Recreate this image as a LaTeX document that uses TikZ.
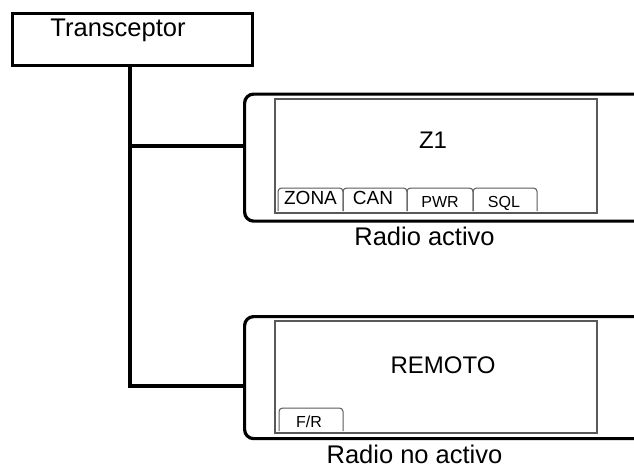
\documentclass[tikz,border=0pt]{standalone}
\usepackage{fontspec}
\setmainfont{Liberation Sans}
\begin{document}
\begin{tikzpicture}[x=1pt,y=-1pt,
  thick line/.style={line width=3.2pt, black},
  radiobox/.style={draw, line width=3.2pt, rounded corners=9pt, minimum width=420pt, anchor=north west, inner sep=0pt},
  screen/.style={draw=black!65, line width=1.3pt},
  tabline/.style={draw=black!65, line width=1pt, rounded corners=3.5pt},
  big/.style={font=\fontsize{25.5}{30}\selectfont, inner sep=0pt, anchor=base},
  mid/.style={font=\fontsize{24}{28}\selectfont, inner sep=0pt, anchor=base},
  tabA/.style={font=\fontsize{19}{22}\selectfont, inner sep=0pt, anchor=base},
  tabB/.style={font=\fontsize{16}{19}\selectfont, inner sep=0pt, anchor=base}]
\useasboundingbox (0,0) rectangle (634,469);
\clip (0,0) rectangle (634,469);

% Transceptor box
\node[draw, line width=3pt, minimum width=240pt, minimum height=52pt, anchor=north west, inner sep=0pt] (tx) at (11,12) {};
\node[big] (txl) at (118,36) {Transceptor};

% Radio 1 (active)
\node[radiobox, minimum height=127pt] (r1) at (243,92.5) {};
\draw[screen] (275,99) rectangle (597,213);
\node[mid] (z1) at (433,148) {Z1};
\draw[tabline] (278,211) -- (278,188) -- (343,188) -- (343,211);
\draw[tabline] (343,211) -- (343,188) -- (407,188) -- (407,211);
\draw[tabline] (407,211) -- (407,188) -- (473,188) -- (473,211);
\draw[tabline] (473,211) -- (473,188) -- (537,188) -- (537,211);
\node[tabA] (tzona) at (310.5,204) {ZONA};
\node[tabA] (tcan) at (373,204) {CAN};
\node[tabB] (tpwr) at (440,207) {PWR};
\node[tabB] (tsql) at (504,207) {SQL};
\node[big] (l1) at (424.5,245) {Radio activo};

% Radio 2 (not active)
\node[radiobox, minimum height=122pt] (r2) at (243,315) {};
\draw[screen] (275,321) rectangle (597,433);
\node[mid] (rem) at (443,373) {REMOTO};
\draw[tabline] (279,431) -- (279,408) -- (343,408) -- (343,431);
\node[tabB] (tfr) at (309,427) {F/R};
\node[big] (l2) at (414.5,463.5) {Radio no activo};

% Connectors
\coordinate (j1) at (130,146);
\coordinate (j2) at (130,386);
\draw[thick line] (tx.south -| j1) -- (j2) -- (j2 -| r2.west);
\draw[thick line] (j1) -- (j1 -| r1.west);
\end{tikzpicture}
\end{document}
